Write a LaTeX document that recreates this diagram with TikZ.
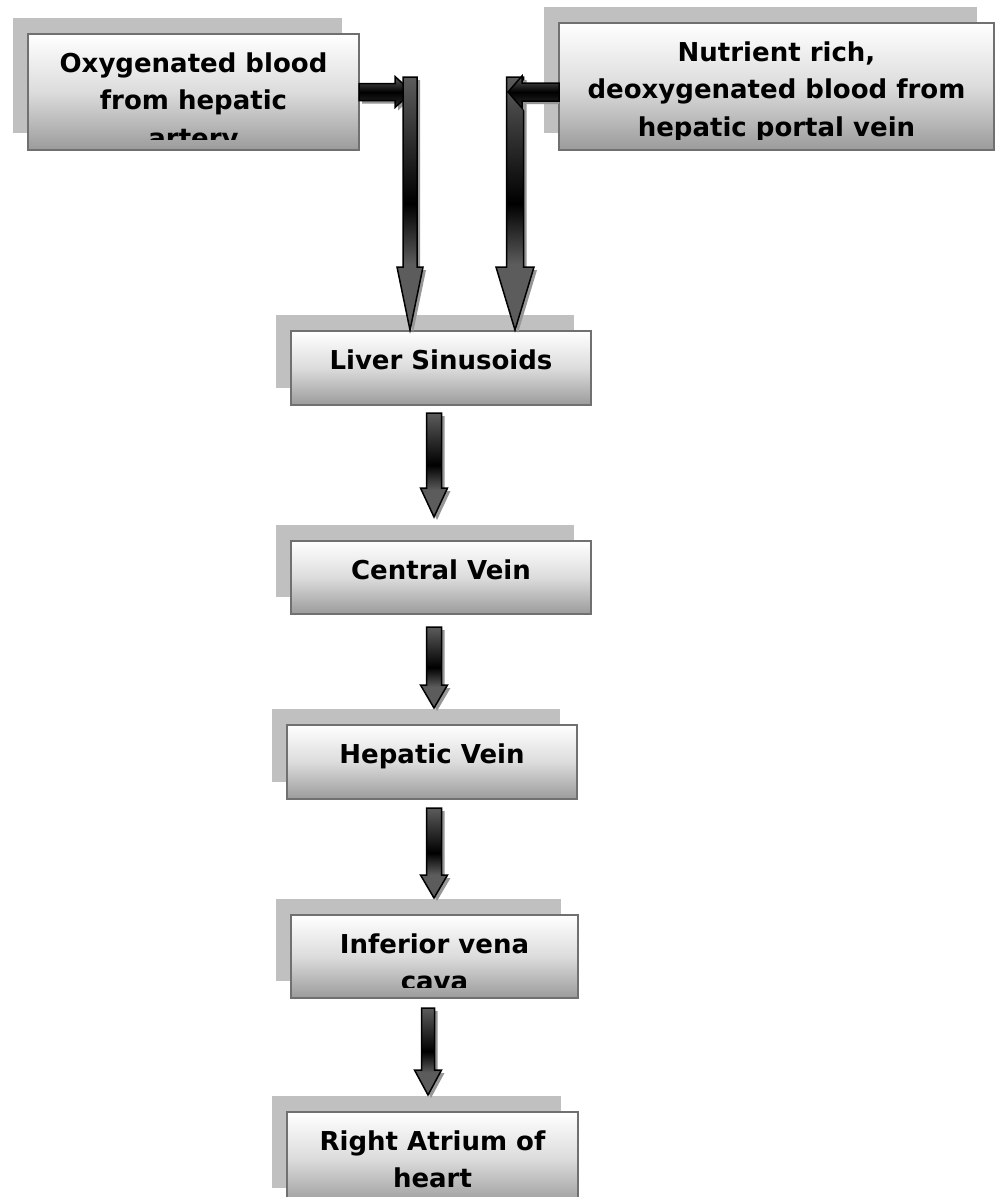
\documentclass[tikz,border=0pt]{standalone}
\usepackage{fontspec}
\setmainfont{DejaVu Sans}
\usetikzlibrary{calc,backgrounds}
\definecolor{boxline}{RGB}{112,112,112}
\definecolor{boxbot}{RGB}{155,155,155}
\definecolor{boxmid}{RGB}{220,220,220}
\definecolor{boxshadow}{RGB}{192,192,192}
\definecolor{argray}{RGB}{92,92,92}
\definecolor{ardark}{RGB}{45,45,45}
\definecolor{arshadow}{RGB}{150,150,150}
\pgfdeclareverticalshading{vshade}{100bp}{color(0bp)=(argray); color(38bp)=(argray); color(50bp)=(black); color(75bp)=(argray); color(100bp)=(argray)}
\tikzset{
  boxtext/.style={anchor=north, align=center, inner sep=0pt, text=black,
    font=\bfseries\fontsize{26}{37.5}\selectfont},
  flowbox/.style={rectangle, draw=boxline, line width=2pt, inner sep=0pt, outer sep=0pt,
    top color=white, bottom color=boxbot, middle color=boxmid},
  arrbody/.style={draw=black, line width=1.5pt, line join=miter},
  arrshade/.style={fill=arshadow},
}
% label of a box, clipped to the inner area of the box: #1 box node, #2 label node name, #3 text
\newcommand{\boxlabel}[3]{%
  \begin{scope}
    \clip (#1.north west) rectangle ($(#1.south east)+(0,-11)$);
    \node[boxtext] (#2) at ($(#1.north)+(0,18.5)$) {#3};
  \end{scope}}
% vertical block arrow: #1 top point, #2 tip point (x taken from tip), #3 shaft half width, #4 head half width, #5 head length
\newcommand{\vblockarrow}[5]{%
  \fill[arrshade] let \p1=#1, \p2=#2 in
    (\x2-#3+3pt,\y1-3pt) -- (\x2+#3+3pt,\y1-3pt) -- (\x2+#3+3pt,\y2+#5-3pt) -- (\x2+#4+3pt,\y2+#5-3pt)
    -- (\x2+3pt,\y2-3pt) -- (\x2-#4+3pt,\y2+#5-3pt) -- (\x2-#3+3pt,\y2+#5-3pt) -- cycle;
  \path[arrbody, shade, shading=vshade] let \p1=#1, \p2=#2 in
    (\x2-#3,\y1) -- (\x2+#3,\y1) -- (\x2+#3,\y2+#5) -- (\x2+#4,\y2+#5)
    -- (\x2,\y2) -- (\x2-#4,\y2+#5) -- (\x2-#3,\y2+#5) -- cycle;
}
% right-pointing block arrow: #1 start, #2 tip (y from tip)
\newcommand{\rblockarrow}[5]{%
  \fill[arrshade] let \p1=#1, \p2=#2 in
    (\x1+3pt,\y2+#3-3pt) -- (\x2-#5+3pt,\y2+#3-3pt) -- (\x2-#5+3pt,\y2+#4-3pt) -- (\x2+3pt,\y2-3pt)
    -- (\x2-#5+3pt,\y2-#4-3pt) -- (\x2-#5+3pt,\y2-#3-3pt) -- (\x1+3pt,\y2-#3-3pt) -- cycle;
  \path[arrbody, top color=argray, bottom color=ardark, middle color=black] let \p1=#1, \p2=#2 in
    (\x1,\y2+#3) -- (\x2-#5,\y2+#3) -- (\x2-#5,\y2+#4) -- (\x2,\y2)
    -- (\x2-#5,\y2-#4) -- (\x2-#5,\y2-#3) -- (\x1,\y2-#3) -- cycle;
}
% left-pointing block arrow: #1 start, #2 tip (y from tip)
\newcommand{\lblockarrow}[5]{%
  \fill[arrshade] let \p1=#1, \p2=#2 in
    (\x1,\y2+#3-3pt) -- (\x2+#5+3pt,\y2+#3-3pt) -- (\x2+#5+3pt,\y2+#4-3pt) -- (\x2+3pt,\y2-3pt)
    -- (\x2+#5+3pt,\y2-#4-3pt) -- (\x2+#5+3pt,\y2-#3-3pt) -- (\x1,\y2-#3-3pt) -- cycle;
  \path[arrbody, top color=argray, bottom color=ardark, middle color=black] let \p1=#1, \p2=#2 in
    (\x1,\y2+#3) -- (\x2+#5,\y2+#3) -- (\x2+#5,\y2+#4) -- (\x2,\y2)
    -- (\x2+#5,\y2-#4) -- (\x2+#5,\y2-#3) -- (\x1,\y2-#3) -- cycle;
}
\begin{document}
\begin{tikzpicture}[x=1pt, y=-1pt]
\useasboundingbox (0,0) rectangle (995,1197);
\clip (0,0) rectangle (995,1197);

% boxes
\node[flowbox, minimum width=331, minimum height=116] (oxy) at (193.5,92) {};
\node[flowbox, minimum width=435, minimum height=127] (nut) at (776.5,86.5) {};
\node[flowbox, minimum width=300, minimum height=74] (ls) at (441,368) {};
\node[flowbox, minimum width=300, minimum height=73] (cv) at (441,577.5) {};
\node[flowbox, minimum width=290, minimum height=74] (hv) at (432,762) {};
\node[flowbox, minimum width=287, minimum height=83] (ivc) at (434.5,956.5) {};
\node[flowbox, minimum width=291, minimum height=93] (ra) at (432.5,1158.5) {};

% labels
\boxlabel{oxy}{oxyt}{Oxygenated blood\\from hepatic\\artery}
\boxlabel{nut}{nutt}{Nutrient rich,\\deoxygenated blood from\\hepatic portal vein}
\boxlabel{ls}{lst}{Liver Sinusoids}
\boxlabel{cv}{cvt}{Central Vein}
\boxlabel{hv}{hvt}{Hepatic Vein}
\boxlabel{ivc}{ivct}{Inferior vena\\cava}
\boxlabel{ra}{rat}{Right Atrium of\\heart}

% shadows of the boxes
\begin{pgfonlayer}{background}
  \fill[white] (0,0) rectangle (995,1197);
  \foreach \n in {oxy,nut,ls,cv,hv,ivc,ra}
    \fill[boxshadow] ($(\n.north west)+(-15,-16)$) rectangle ($(\n.south east)+(-17,-17)$);
\end{pgfonlayer}

% junction coordinates
\path (ls.north) ++(-31,0) coordinate (lt);
\path (ls.north) ++(74,0) coordinate (rt);
\coordinate (jl) at (lt |- oxy.east);
\path (nut.west) ++(0,5.5) coordinate (nw);
\coordinate (jr) at (rt |- nw);

% left inflow
\rblockarrow{(oxy.east)}{($(jl)+(2,0)$)}{8.5pt}{15.5pt}{17pt}
\vblockarrow{($(jl)+(0,-15)$)}{($(lt)+(0,-1)$)}{7pt}{13pt}{63pt}
% right inflow
\vblockarrow{($(jr)+(0,-15)$)}{($(rt)+(0,-1)$)}{8.5pt}{19pt}{63pt}
\lblockarrow{(nw)}{($(jr)+(-7,0)$)}{9pt}{16pt}{14pt}

% chain
\vblockarrow{($(ls.south)+(-7,8)$)}{($(cv.north)+(-7,-24)$)}{7.5pt}{13.5pt}{29pt}
\vblockarrow{($(cv.south)+(-7,13)$)}{($(hv.north)+(2,-17)$)}{7.5pt}{13.5pt}{23pt}
\vblockarrow{($(hv.south)+(2,9)$)}{($(ivc.north)+(-0.5,-17)$)}{7.5pt}{13.5pt}{23pt}
\vblockarrow{($(ivc.south)+(-6.5,10)$)}{($(ra.north)+(-4.5,-17)$)}{6.5pt}{13.5pt}{25pt}
\end{tikzpicture}
\end{document}
